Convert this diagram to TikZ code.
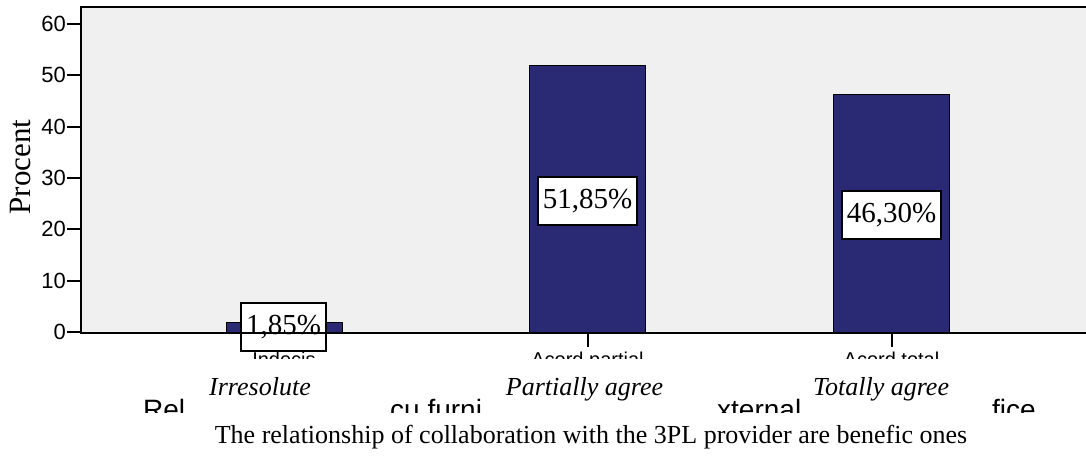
\documentclass[tikz,border=0pt]{standalone}
\usepackage{fontspec}
\setmainfont{Liberation Serif}
\setsansfont{Liberation Sans}
\usepackage{xcolor}
\usepackage{tikz}

\definecolor{plotbg}{HTML}{F0F0F0}
\definecolor{barblue}{HTML}{292A73}

\begin{document}
\begin{tikzpicture}[x=1pt,y=-1pt,
  bar/.style={fill=barblue, draw=black, line width=1pt},
  axisline/.style={line width=2pt},
  pct/.style={draw, fill=white, line width=1.3pt, font=\fontsize{29}{32}\selectfont, minimum height=48pt, minimum width=99pt, inner xsep=2pt, inner ysep=0pt},
  num/.style={font=\sffamily\fontsize{22}{24}\selectfont, anchor=east, inner sep=0pt},
  cat/.style={font=\sffamily\fontsize{20}{24}\selectfont, anchor=base, inner sep=0pt},
  eng/.style={font=\itshape\fontsize{26}{30}\selectfont, anchor=base, inner sep=0pt},
  frag/.style={font=\sffamily\fontsize{28}{32}\selectfont, anchor=base west, inner sep=0pt}
]
\useasboundingbox (0,0) rectangle (1086,457);
\fill[plotbg] (81,7) rectangle (1086,332);
\foreach \v in {0,10,...,60}{
  \draw[axisline] (67,{332-5.133*\v}) -- (81,{332-5.133*\v});
  \node[num] (n\v) at (66,{332-5.133*\v}) {\v};
}
\foreach \c/\v in {284/1.85,587.5/51.85,891.5/46.30}{
  \draw[bar] ({\c-58},332) rectangle ({\c+58},{332-5.133*\v});
  \draw[axisline] (\c,332) -- (\c,347);
}
\node[pct, minimum width=85pt] (p1) at (283.5,327) {1,85\%};
\node[pct] (p2) at (587.5,201) {51,85\%};
\node[pct] (p3) at (891.5,215) {46,30\%};
\draw[axisline] (81,7) -- (1086,7);
\draw[axisline] (81,6) -- (81,333) -- (1086,333);
\node[rotate=90, font=\fontsize{31}{34}\selectfont] (ylab) at (21,167) {Procent};
\begin{scope}
  \clip (0,345) rectangle (1086,358);
  \node[cat] (c1) at (284,366) {Indecis};
  \node[cat] (c2) at (587.5,366) {Acord partial};
  \node[cat] (c3) at (891.5,366) {Acord total};
\end{scope}
\node[eng] (e1) at (260,395) {Irresolute};
\node[eng] (e2) at (584.5,395) {Partially agree};
\node[eng] (e3) at (881,395) {Totally agree};
\begin{scope}
  \clip (0,398) rectangle (1086,412);
  \node[frag] (r1) at (143,419) {\raisebox{0pt}[\height][0pt]{Rel}};
  \node[frag] (r2) at (390,419) {\raisebox{0pt}[\height][0pt]{cu furni}};
  \node[frag] (r3) at (717,419) {\raisebox{0pt}[\height][0pt]{xternal}};
  \node[frag] (r4) at (992,419) {\raisebox{0pt}[\height][0pt]{fice}};
\end{scope}
\node[anchor=base, inner sep=0pt, font=\fontsize{26}{30}\selectfont] (title) at (591,443) {The relationship of collaboration with the 3PL provider are benefic ones};
\end{tikzpicture}
\end{document}
